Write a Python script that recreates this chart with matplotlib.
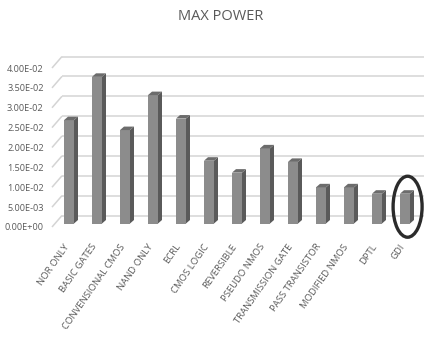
import matplotlib
matplotlib.use("Agg")
import matplotlib.pyplot as plt
from matplotlib.patches import Polygon, Ellipse
from matplotlib import font_manager

categories = ["NOR ONLY", "BASIC GATES", "CONVENSIONAL CMOS", "NAND ONLY", "ECRL",
              "CMOS LOGIC", "REVERSIBLE", "PSEUDO NMOS", "TRANSMISSION GATE",
              "PASS TRANSISTOR", "MODIFIED NMOS", "DPTL", "GDI"]
max_power = [2.60e-2, 3.69e-2, 2.35e-2, 3.23e-2, 2.64e-2,
             1.58e-2, 1.28e-2, 1.89e-2, 1.55e-2,
             0.91e-2, 0.91e-2, 0.75e-2, 0.75e-2]
y_ticks = [0.0, 0.005, 0.010, 0.015, 0.020, 0.025, 0.030, 0.035, 0.040]
y_tick_labels = ["0.00E+00", "5.00E-03", "1.00E-02", "1.50E-02", "2.00E-02",
                 "2.50E-02", "3.00E-02", "3.50E-02", "4.00E-02"]
highlighted = "GDI"
title = "MAX POWER"


def pick_font(names):
    for name in names:
        try:
            font_manager.findfont(name, fallback_to_default=False)
            return name
        except ValueError:
            continue
    return "DejaVu Sans"


FONT = pick_font(["Liberation Sans Narrow", "DejaVu Sans Condensed", "Open Sans", "DejaVu Sans"])
TEXT = "#595959"

W, H = 424, 343
fig = plt.figure(figsize=(W / 100, H / 100), dpi=100)
fig.patch.set_facecolor("white")

ax_l, ax_b, ax_w, ax_h = 52, 116, 364, 159
ax = fig.add_axes([ax_l / W, ax_b / H, ax_w / W, ax_h / H])
ax.set_xlim(-0.5, 12.5)
ax.set_ylim(0, 0.04)
ax.set_facecolor("none")
for s in ax.spines.values():
    s.set_visible(False)

# pixels per data unit, used to express the 3-D depth offsets
ppx = ax_w / 13.0
ppy = ax_h / 0.04


def depth(px, py):
    return px / ppx, py / ppy


wall_dx, wall_dy = depth(10, 11.5)
inset_dx, inset_dy = depth(3, 3.5)
bar_dx, bar_dy = depth(4, 3.5)
bar_w = 10 / ppx

# back wall gridlines with the diagonal floor/side-wall edges
x_left = -0.5
for t in y_ticks:
    ax.plot([x_left, x_left + wall_dx], [t, t + wall_dy], color="#d4d4d4",
            lw=1.1, clip_on=False, zorder=1, solid_capstyle="butt")
    ax.plot([x_left + wall_dx, 13.2], [t + wall_dy, t + wall_dy], color="#d4d4d4",
            lw=1.1, clip_on=False, zorder=1, solid_capstyle="butt")

# columns: front face, right side face and top face
xs = list(range(len(categories)))
ax.bar([x + inset_dx for x in xs], max_power, width=bar_w, bottom=inset_dy,
       color="#8c8c8c", edgecolor="none", zorder=3, clip_on=False)
for x, v in zip(xs, max_power):
    x0 = x + inset_dx - bar_w / 2
    x1 = x + inset_dx + bar_w / 2
    y0 = inset_dy
    y1 = inset_dy + v
    side = Polygon([(x1, y0), (x1 + bar_dx, y0 + bar_dy), (x1 + bar_dx, y1 + bar_dy), (x1, y1)],
                   closed=True, facecolor="#5a5a5a", edgecolor="none", zorder=3, clip_on=False)
    top = Polygon([(x0, y1), (x1, y1), (x1 + bar_dx, y1 + bar_dy), (x0 + bar_dx, y1 + bar_dy)],
                  closed=True, facecolor="#6c6c6c", edgecolor="none", zorder=4, clip_on=False)
    ax.add_patch(side)
    ax.add_patch(top)

# value axis labels
ax.set_yticks(y_ticks)
ax.set_yticklabels(y_tick_labels, fontsize=6.6, color=TEXT, family=FONT)
ax.tick_params(axis="y", length=0, pad=6)
ax.set_xticks([])

# rotated category labels
for x, name in zip(xs, categories):
    ax.text(x + inset_dx - 2 / ppx, -18 / ppy, name, rotation=55,
            rotation_mode="anchor", ha="right", va="center",
            fontsize=6.8, color=TEXT, family=FONT, clip_on=False)

# highlight ring around the selected column
gi = categories.index(highlighted)
ring = Ellipse((gi + 0.2, max_power[gi] * 0.68), width=29 / ppx, height=61 / ppy,
               fill=False, edgecolor="#2b2b2b", lw=2.4, zorder=6, clip_on=False)
ax.add_patch(ring)

fig.text(221 / W, 1 - 17 / H, title, ha="center", va="center",
         fontsize=10.5, color=TEXT, family=FONT)

fig.savefig("out.png", dpi=100)
